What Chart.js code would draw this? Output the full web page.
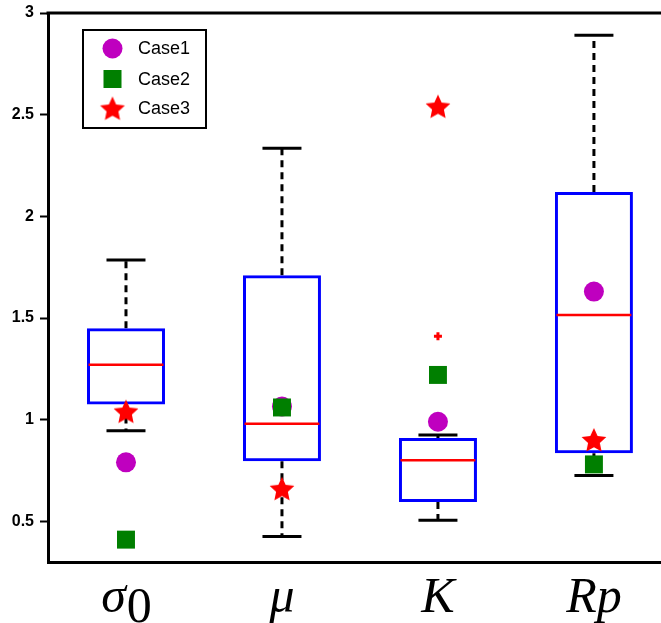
<!DOCTYPE html>
<html>
<head>
<meta charset="utf-8">
<script src="https://cdn.jsdelivr.net/npm/chart.js"></script>
<style>
  html, body { margin: 0; padding: 0; background: #fff; }
  #wrap { width: 661px; height: 623px; position: relative; }
</style>
</head>
<body>
<div id="wrap"><canvas id="chart"></canvas></div>
<script>
// categorias (eje x)
const categorias = ['σ', 'μ', 'K', 'Rp'];
const subindices = ['0', '', '', ''];

// estadisticas de las cajas
const bigoteBajo = [0.945, 0.425, 0.505, 0.725];
const q1 = [1.075, 0.795, 0.595, 0.835];
const mediana = [1.27, 0.98, 0.80, 1.515];
const q3 = [1.45, 1.71, 0.91, 2.12];
const bigoteAlto = [1.785, 2.335, 0.925, 2.89];
const atipicosK = [1.41];

// casos
const case1 = [0.79, 1.065, 0.99, 1.63];
const case2 = [0.41, 1.06, 1.22, 0.78];
const case3 = [1.04, 0.66, 2.54, 0.90];

// ticks eje y
const yTicks = [0.5, 1, 1.5, 2, 2.5, 3];

// estrella de 5 puntas para Case3
function makeStar(rOut, rIn) {
    const size = Math.ceil(rOut * 2 + 2);
    const c = document.createElement('canvas');
    c.width = size;
    c.height = size;
    const g = c.getContext('2d');
    g.fillStyle = '#ff0000';
    g.beginPath();
    for (let i = 0; i < 10; i++) {
        const r = i % 2 === 0 ? rOut : rIn;
        const a = -Math.PI / 2 + i * Math.PI / 5;
        const px = size / 2 + r * Math.cos(a);
        const py = size / 2 + 1 + r * Math.sin(a);
        if (i === 0) g.moveTo(px, py); else g.lineTo(px, py);
    }
    g.closePath();
    g.fill();
    return c;
}
const estrella = makeStar(13, 6.2);

const xs = categorias.map((c, i) => i + 1);
const puntos = arr => arr.map((v, i) => ({ x: xs[i], y: v }));

// segmentos separados por huecos
const bigotes = [];
const topes = [];
const medianas = [];
xs.forEach((x, i) => {
    bigotes.push({ x: x, y: q3[i] }, { x: x, y: bigoteAlto[i] }, { x: x, y: null });
    bigotes.push({ x: x, y: q1[i] }, { x: x, y: bigoteBajo[i] }, { x: x, y: null });
    topes.push({ x: x - 0.125, y: bigoteAlto[i] }, { x: x + 0.125, y: bigoteAlto[i] }, { x: x, y: null });
    topes.push({ x: x - 0.125, y: bigoteBajo[i] }, { x: x + 0.125, y: bigoteBajo[i] }, { x: x, y: null });
    medianas.push({ x: x - 0.24, y: mediana[i] }, { x: x + 0.24, y: mediana[i] }, { x: x, y: null });
});

// leyenda y etiquetas del eje x dibujadas a mano
const extras = {
    id: 'extras',
    afterDraw(chart) {
        const ctx = chart.ctx;
        const area = chart.chartArea;
        const xScale = chart.scales.x;
        ctx.save();

        // borde superior
        ctx.strokeStyle = '#000';
        ctx.lineWidth = 3;
        ctx.beginPath();
        ctx.moveTo(area.left - 1.5, area.top);
        ctx.lineTo(chart.width, area.top);
        ctx.stroke();

        // etiquetas eje x
        const base = area.bottom + 50;
        ctx.fillStyle = '#000';
        ctx.textBaseline = 'alphabetic';
        categorias.forEach((lab, i) => {
            const cx = xScale.getPixelForValue(xs[i]);
            ctx.font = 'italic 50px "Liberation Serif"';
            const w1 = ctx.measureText(lab).width;
            let w2 = 0;
            if (subindices[i]) {
                ctx.font = '50px "Liberation Serif"';
                w2 = ctx.measureText(subindices[i]).width;
            }
            const start = cx - (w1 + w2) / 2;
            ctx.textAlign = 'left';
            ctx.font = 'italic 50px "Liberation Serif"';
            ctx.fillText(lab, start, base);
            if (subindices[i]) {
                ctx.font = '50px "Liberation Serif"';
                ctx.fillText(subindices[i], start + w1 + 1, base + 10);
            }
        });

        // leyenda
        ctx.lineWidth = 2;
        ctx.strokeStyle = '#000';
        ctx.fillStyle = '#fff';
        ctx.fillRect(83, 30, 123, 98);
        ctx.strokeRect(83, 30, 123, 98);

        ctx.fillStyle = '#bf00bf';
        ctx.beginPath();
        ctx.arc(112.5, 48.5, 10, 0, Math.PI * 2);
        ctx.fill();

        ctx.fillStyle = '#007f00';
        ctx.fillRect(103.5, 70, 18, 18);

        ctx.drawImage(estrella, 112.5 - estrella.width / 2, 108.5 - estrella.height / 2);

        ctx.fillStyle = '#000';
        ctx.font = '18px "Liberation Sans"';
        ctx.textAlign = 'left';
        ctx.textBaseline = 'middle';
        ctx.fillText('Case1', 138, 49);
        ctx.fillText('Case2', 138, 80);
        ctx.fillText('Case3', 138, 109);
        ctx.restore();
    }
};

new Chart(document.getElementById('chart'), {
    type: 'scatter',
    data: {
        datasets: [
            {
                type: 'scatter',
                label: 'Case3',
                data: puntos(case3),
                pointStyle: estrella,
                order: 1
            },
            {
                type: 'scatter',
                label: 'Case2',
                data: puntos(case2),
                pointStyle: 'rect',
                pointRadius: 12.7,
                backgroundColor: '#007f00',
                borderWidth: 0,
                order: 2
            },
            {
                type: 'scatter',
                label: 'Case1',
                data: puntos(case1),
                pointStyle: 'circle',
                pointRadius: 10,
                backgroundColor: '#bf00bf',
                borderWidth: 0,
                order: 3
            },
            {
                type: 'scatter',
                label: 'atipicos',
                data: atipicosK.map(v => ({ x: xs[2], y: v })),
                pointStyle: 'cross',
                pointRadius: 4,
                borderColor: '#ff0000',
                borderWidth: 3,
                order: 4
            },
            {
                type: 'line',
                label: 'mediana',
                data: medianas,
                borderColor: '#ff0000',
                borderWidth: 2.5,
                pointRadius: 0,
                spanGaps: false,
                order: 5
            },
            {
                type: 'bar',
                label: 'cajas',
                data: xs.map((x, i) => ({ x: x, y: [q1[i], q3[i]] })),
                backgroundColor: 'rgba(255,255,255,0)',
                borderColor: '#0000ff',
                borderWidth: 3,
                borderSkipped: false,
                barPercentage: 0.5,
                categoryPercentage: 1,
                order: 6
            },
            {
                type: 'line',
                label: 'bigotes',
                data: bigotes,
                borderColor: '#000',
                borderWidth: 3,
                borderDash: [7, 5],
                pointRadius: 0,
                spanGaps: false,
                order: 7
            },
            {
                type: 'line',
                label: 'topes',
                data: topes,
                borderColor: '#000',
                borderWidth: 3,
                pointRadius: 0,
                spanGaps: false,
                order: 7
            }
        ]
    },
    options: {
        responsive: true,
        maintainAspectRatio: false,
        animation: false,
        layout: { autoPadding: false, padding: { top: 13, right: 0, left: 0, bottom: 0 } },
        plugins: {
            legend: { display: false },
            tooltip: { enabled: false }
        },
        scales: {
            x: {
                type: 'linear',
                min: 0.5,
                max: 4.43,
                offset: false,
                afterBuildTicks: s => { s.ticks = xs.map(v => ({ value: v })); },
                grid: { display: false },
                border: { display: true, color: '#000', width: 3 },
                ticks: { display: false },
                afterFit: s => { s.height = 61; s.paddingLeft = 0; s.paddingRight = 0; }
            },
            y: {
                type: 'linear',
                min: 0.3,
                max: 3,
                afterBuildTicks: s => { s.ticks = yTicks.map(v => ({ value: v })); },
                grid: {
                    display: true,
                    drawOnChartArea: false,
                    drawTicks: true,
                    tickLength: 8,
                    tickWidth: 2,
                    color: '#000'
                },
                border: { display: true, color: '#000', width: 3 },
                ticks: {
                    color: '#000',
                    padding: 6,
                    font: { family: 'Liberation Sans', size: 16, weight: 'bold' },
                    callback: v => String(v)
                },
                afterFit: s => { s.width = 48; s.paddingTop = 0; s.paddingBottom = 0; }
            }
        }
    },
    plugins: [extras]
});
</script>
</body>
</html>
